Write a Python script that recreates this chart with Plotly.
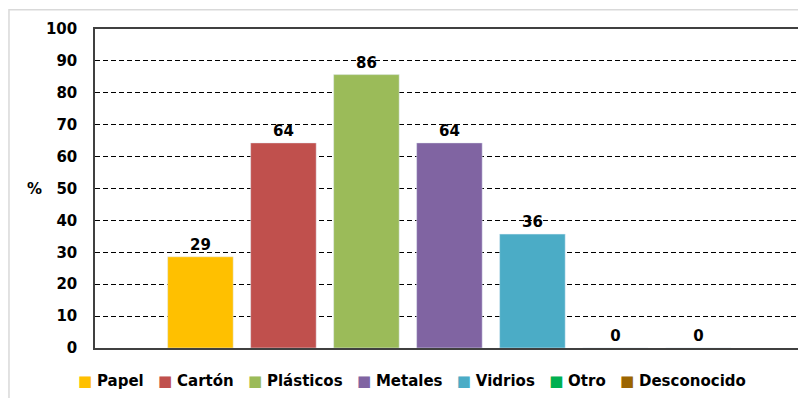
import plotly.graph_objects as go

categories = ["Papel", "Cartón", "Plásticos", "Metales", "Vidrios", "Otro", "Desconocido"]
values = [28.6, 64.3, 85.7, 64.3, 35.7, 0, 0]
labels = ["29", "64", "86", "64", "36", "0", "0"]
colors = ["#FFC000", "#C0504D", "#9BBB59", "#8064A2", "#4BACC6", "#00B050", "#9C6500"]
y_ticks = [0, 10, 20, 30, 40, 50, 60, 70, 80, 90, 100]

FONT = "DejaVu Sans, Verdana, sans-serif"

fig = go.Figure()

# one trace per material, like the series of the original chart
for i, (name, val, lab, col) in enumerate(zip(categories, values, labels, colors)):
    fig.add_trace(go.Bar(
        x=[i],
        y=[val],
        name=name,
        marker_color=col,
        width=0.79,
        text=[lab],
        texttemplate="<b>%{text}</b>",
        textposition="outside",
        cliponaxis=False,
        textfont=dict(family=FONT, size=15, color="black"),
    ))

# legend row built as one line of text so the compact spacing of the original is kept
sep = "&nbsp;" * 3
legend_text = sep.join(
    f"<span style='color:{c}'>■</span>&nbsp;<b>{n}</b>" for n, c in zip(categories, colors)
)

# the page body adds an 8px offset, so the figure is 8px smaller than the window
fig.update_layout(
    width=798,
    height=390,
    barmode="overlay",
    plot_bgcolor="white",
    paper_bgcolor="white",
    margin=dict(l=87, r=3, t=21, b=50, autoexpand=False),
    font=dict(family=FONT, size=15, color="black"),
    showlegend=False,
    xaxis=dict(
        range=[-1.27, 7.26],
        showticklabels=False,
        ticks="",
        showgrid=False,
        zeroline=False,
        showline=True,
        linecolor="#404040",
        linewidth=1.5,
        mirror=True,
        automargin=False,
    ),
    yaxis=dict(
        range=[0, 100],
        tickvals=y_ticks,
        tickfont=dict(family=FONT, size=15, color="black", weight="bold"),
        ticks="",
        ticklabelstandoff=13,
        showgrid=True,
        gridcolor="black",
        griddash="5px,3px",
        gridwidth=1,
        zeroline=False,
        showline=True,
        linecolor="#404040",
        linewidth=1.5,
        mirror=True,
        automargin=False,
    ),
    annotations=[
        dict(
            text="<b>%</b>",
            xref="paper", yref="paper",
            x=-0.085, xanchor="center",
            y=0.5, yanchor="middle",
            showarrow=False,
            font=dict(family=FONT, size=15, color="black"),
        ),
        dict(
            text=legend_text,
            xref="paper", yref="paper",
            x=0.448, xanchor="center",
            y=-0.07, yanchor="top",
            showarrow=False,
            font=dict(family=FONT, size=15, color="black"),
        ),
    ],
    shapes=[dict(
        type="rect",
        xref="paper", yref="paper",
        x0=-0.1215, x1=1.02, y0=-0.2, y1=1.06,
        line=dict(color="#d9d9d9", width=1.5),
        layer="below",
    )],
)

fig.write_html("out.html")
